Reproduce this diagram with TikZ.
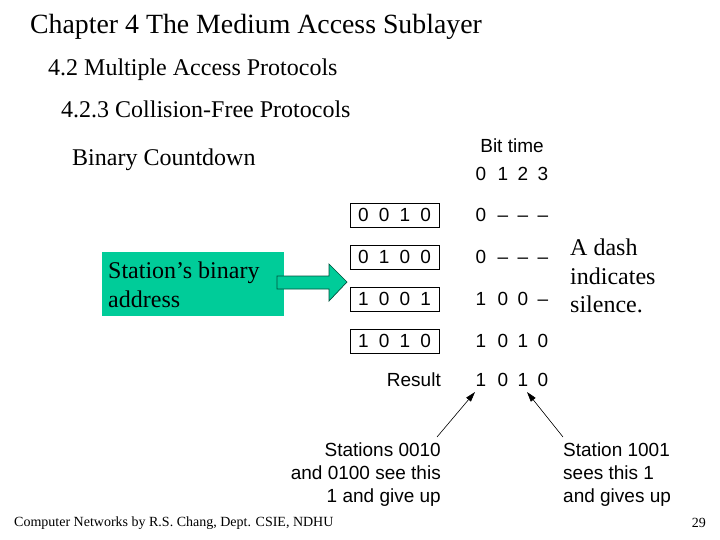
\documentclass[tikz,border=0pt]{standalone}
\usepackage{fontspec}
\setmainfont{Liberation Serif}
\newfontfamily\hel{Liberation Sans}
\usetikzlibrary{arrows.meta}
\definecolor{grn}{HTML}{00CC99}
\newcommand{\gp}{\hspace{10.2pt}}
\begin{document}
\begin{tikzpicture}[x=1pt,y=-1pt,
  bitbox/.style={draw,line width=0.9pt,minimum width=89pt,minimum height=24pt,inner sep=0pt,text height=13.6pt,text depth=0pt,font=\hel\fontsize{19}{19}\selectfont},
  fig/.style={font=\hel\fontsize{19}{19}\selectfont,inner sep=0pt,text height=13.6pt,text depth=0pt},
  captxt/.style={font=\hel\fontsize{19}{23}\selectfont,inner sep=0pt,align=right},
  ttl/.style={anchor=west,inner sep=0pt},
  callout/.style={-{Triangle[length=10pt,width=6pt]},line width=0.6pt}]
\useasboundingbox (0,0) rectangle (720,540);
\node[ttl,font=\fontsize{27.8}{28}\selectfont] (t1) at (30,27) {Chapter 4 The Medium Access Sublayer};
\node[ttl,font=\fontsize{24}{24}\selectfont] (t2) at (48,70) {4.2 Multiple Access Protocols};
\node[ttl,font=\fontsize{24}{24}\selectfont] (t3) at (61,109) {4.2.3 Collision-Free Protocols};
\node[ttl,font=\fontsize{24}{24}\selectfont] (t4) at (72,160) {Binary Countdown};
\node[fill=grn,minimum width=182pt,minimum height=64pt,anchor=north west,inner sep=0pt] (g) at (102,252) {};
\node[anchor=north west,align=left,font=\fontsize{24}{29}\selectfont,inner sep=0pt] (gt) at (108,262) {Station’s binary\\address};
\draw[draw=black!60!grn,fill=grn,line width=0.7pt] (277,276) -- (329,276) -- (329,264) -- (347,282) -- (329,301) -- (329,289) -- (277,289) -- cycle;
\node[fig] (bt) at (512,146) {Bit time};
\foreach \x/\i in {481/0,503/1,523/2,543/3} \node[fig] (h\i) at (\x,174) {\i};
\node[bitbox] (b1) at (394.5,215) {0\gp0\gp1\gp0};
\node[bitbox] (b2) at (394.5,257) {0\gp1\gp0\gp0};
\node[bitbox] (b3) at (394.5,299) {1\gp0\gp0\gp1};
\node[bitbox] (b4) at (394.5,341) {1\gp0\gp1\gp0};
\foreach \r/\y/\a/\b/\c/\d in {1/215/0/–/–/–,2/257/0/–/–/–,3/299/1/0/0/–,4/341/1/0/1/0,5/380/1/0/1/0}{
  \node[fig] (r\r a) at (481,\y) {\a};
  \node[fig] (r\r b) at (503,\y) {\b};
  \node[fig] (r\r c) at (523,\y) {\c};
  \node[fig] (r\r d) at (543,\y) {\d};}
\node[fig,anchor=east] (res) at (441,380) {Result};
\node[anchor=west,align=left,font=\fontsize{24}{28.5}\selectfont,inner sep=0pt] (dash) at (570,276) {A dash\\indicates\\silence.};
\node[captxt,anchor=north east] (c1) at (441,443) {Stations 0010\\and 0100 see this\\1 and give up};
\node[captxt,anchor=north west,align=left] (c2) at (563,443) {Station 1001\\sees this 1\\and gives up};
\coordinate (p1) at (437,437);
\coordinate (p2) at (563,437);
\coordinate (q1) at (475,392);
\coordinate (q2) at (527,392);
\draw[callout] (p1) -- (q1);
\draw[callout] (p2) -- (q2);
\node[anchor=west,font=\fontsize{14}{14}\selectfont,inner sep=0pt] (ft) at (14,523) {Computer Networks by R.S. Chang, Dept. CSIE, NDHU};
\node[anchor=east,font=\fontsize{14}{14}\selectfont,inner sep=0pt] (pg) at (706,523) {29};
\end{tikzpicture}
\end{document}
